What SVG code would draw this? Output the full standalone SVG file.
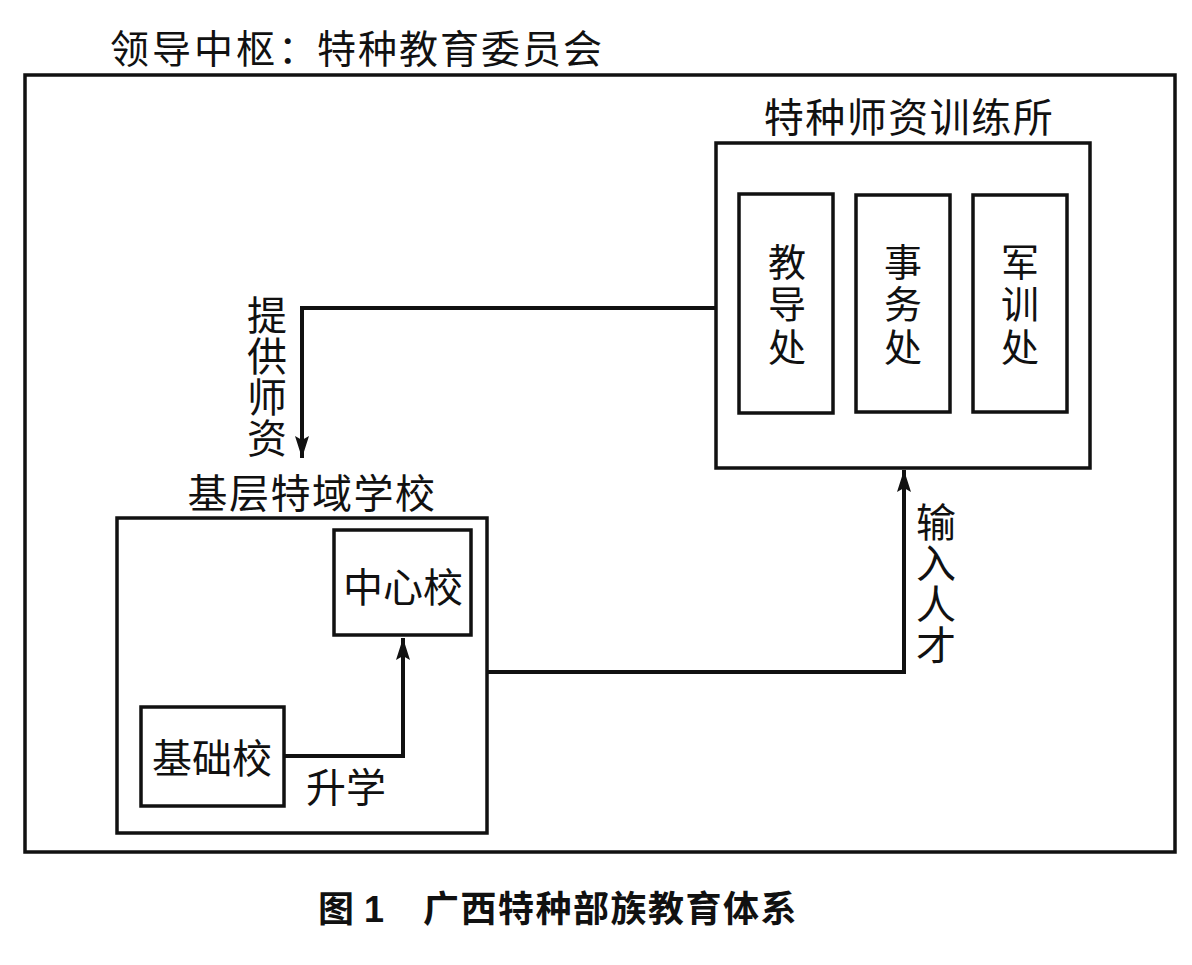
<svg xmlns="http://www.w3.org/2000/svg" width="1192" height="965" viewBox="0 0 1192 965">
<style>
.t{font-family:"Liberation Serif","Noto Sans CJK SC",serif;fill:#111;}
.box{fill:none;stroke:#111;stroke-width:3.5;}
.ln{fill:none;stroke:#111;stroke-width:4;}
.cap{font-family:"Liberation Sans","Noto Sans CJK SC",sans-serif;font-weight:bold;fill:#111;}
</style>
<defs>
<marker id="ah" markerWidth="22" markerHeight="14" refX="22" refY="7" orient="auto" markerUnits="userSpaceOnUse" viewBox="0 0 22 14">
<path d="M0,0 L22,7 L0,14 L4,7 Z" fill="#111"/>
</marker>
</defs>
<rect width="1192" height="965" fill="#fff"/>
<g id="frame">
<rect class="box" x="25" y="75" width="1150" height="777"/>
<text class="t" x="110" y="63" font-size="39" letter-spacing="3">领导中枢：</text>
<text class="t" x="317" y="63" font-size="39" letter-spacing="2">特种教育委员会</text>
</g>
<g id="training">
<rect class="box" x="716" y="143" width="374" height="325"/>
<text class="t" x="909" y="132" font-size="40" text-anchor="middle" letter-spacing="1.5">特种师资训练所</text>
</g>
<g id="jiaodao">
<rect class="box" x="739" y="194" width="94" height="219"/>
<text class="t" font-size="38" text-anchor="middle"><tspan x="787" y="276">教</tspan><tspan x="787" y="318">导</tspan><tspan x="787" y="361">处</tspan></text>
</g>
<g id="shiwu">
<rect class="box" x="856" y="195" width="94" height="217"/>
<text class="t" font-size="38" text-anchor="middle"><tspan x="903" y="276">事</tspan><tspan x="903" y="318">务</tspan><tspan x="903" y="361">处</tspan></text>
</g>
<g id="junxun">
<rect class="box" x="973" y="195" width="94" height="217"/>
<text class="t" font-size="38" text-anchor="middle"><tspan x="1020" y="276">军</tspan><tspan x="1020" y="318">训</tspan><tspan x="1020" y="361">处</tspan></text>
</g>
<g id="school">
<rect class="box" x="117" y="518" width="370" height="315"/>
<text class="t" x="312" y="508" font-size="40" text-anchor="middle" letter-spacing="1.5">基层特域学校</text>
</g>
<g id="zhongxin">
<rect class="box" x="334" y="530" width="137" height="105"/>
<text class="t" x="403" y="602" font-size="40" text-anchor="middle">中心校</text>
</g>
<g id="jichu">
<rect class="box" x="141" y="707" width="143" height="99"/>
<text class="t" x="212" y="773" font-size="40" text-anchor="middle">基础校</text>
</g>
<g id="connectors">
<polyline class="ln" points="716,308 302,308 302,458" marker-end="url(#ah)"/>
<polyline class="ln" points="284,756 403,756 403,638" marker-end="url(#ah)"/>
<polyline class="ln" points="487,672 904,672 904,470" marker-end="url(#ah)"/>
<text class="t" font-size="40" text-anchor="middle"><tspan x="267" y="330">提</tspan><tspan x="267" y="371">供</tspan><tspan x="267" y="412">师</tspan><tspan x="267" y="453">资</tspan></text>
<text class="t" font-size="40" text-anchor="middle"><tspan x="936" y="537">输</tspan><tspan x="936" y="578">入</tspan><tspan x="936" y="619">人</tspan><tspan x="936" y="660">才</tspan></text>
<text class="t" x="306" y="802" font-size="40">升学</text>
</g>
<g id="caption">
<text class="cap" x="318" y="922" font-size="36">图 1</text>
<text class="cap" x="423" y="922" font-size="36" letter-spacing="1.5">广西特种部族教育体系</text>
</g>
</svg>
